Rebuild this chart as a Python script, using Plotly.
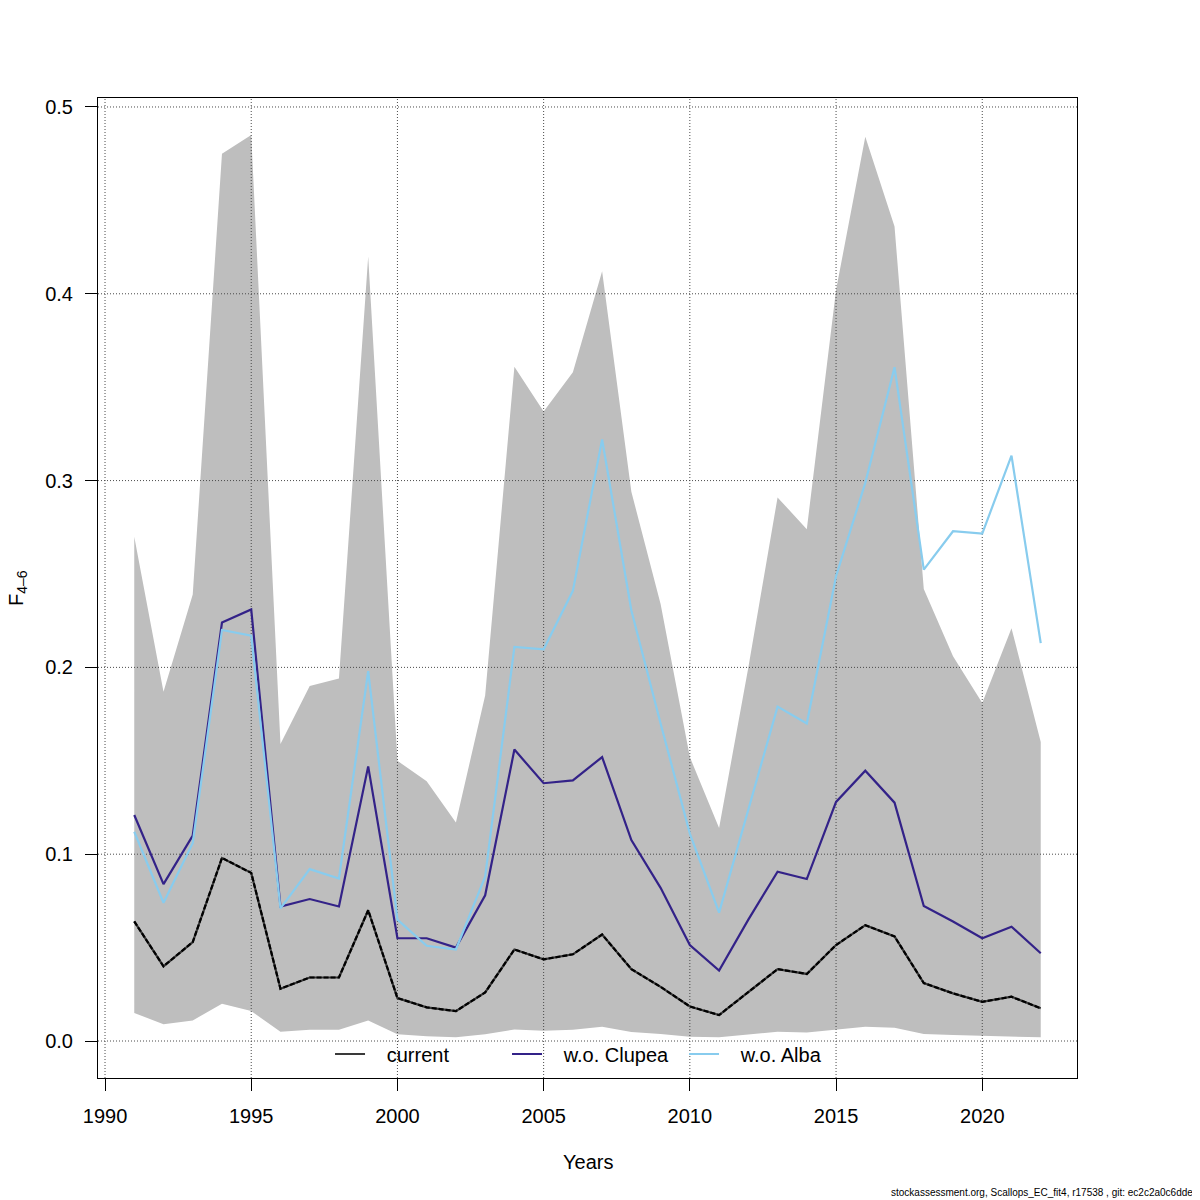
import plotly.graph_objects as go

# F(4-6) by year
years = list(range(1991, 2023))

upper = [0.270, 0.187, 0.239, 0.475, 0.485, 0.159, 0.190, 0.194, 0.420, 0.150,
         0.139, 0.117, 0.185, 0.361, 0.337, 0.358, 0.412, 0.294, 0.234, 0.152,
         0.114, 0.200, 0.291, 0.274, 0.402, 0.484, 0.436, 0.242, 0.206, 0.181,
         0.221, 0.160]
lower = [0.015, 0.009, 0.011, 0.020, 0.016, 0.005, 0.006, 0.006, 0.011, 0.0036,
         0.0026, 0.002, 0.0036, 0.0062, 0.0055, 0.006, 0.0077, 0.0048, 0.0037, 0.0023,
         0.002, 0.0037, 0.005, 0.0046, 0.0062, 0.0077, 0.0071, 0.0037, 0.0032, 0.0029,
         0.0025, 0.002]
current = [0.064, 0.040, 0.053, 0.098, 0.090, 0.028, 0.034, 0.034, 0.070, 0.023,
           0.018, 0.016, 0.026, 0.049, 0.0437, 0.0464, 0.057, 0.0385, 0.029, 0.0185,
           0.0139, 0.026, 0.0385, 0.0359, 0.0514, 0.062, 0.056, 0.031, 0.0255, 0.021,
           0.0237, 0.0175]
clupea = [0.121, 0.084, 0.110, 0.224, 0.231, 0.072, 0.076, 0.072, 0.147, 0.055,
          0.055, 0.050, 0.078, 0.156, 0.138, 0.1395, 0.152, 0.1076, 0.082, 0.0514,
          0.0377, 0.065, 0.0906, 0.0867, 0.128, 0.1447, 0.1276, 0.0723, 0.064, 0.055,
          0.0612, 0.047]
alba = [0.112, 0.074, 0.106, 0.220, 0.217, 0.071, 0.092, 0.087, 0.198, 0.065,
        0.051, 0.049, 0.088, 0.211, 0.2097, 0.241, 0.322, 0.2305, 0.170, 0.111,
        0.0687, 0.124, 0.179, 0.170, 0.2488, 0.2988, 0.3607, 0.2523, 0.2729, 0.2716,
        0.3134, 0.213]

x_ticks = [1990, 1995, 2000, 2005, 2010, 2015, 2020]
y_ticks = [0.0, 0.1, 0.2, 0.3, 0.4, 0.5]
y_labels = ['0.0', '0.1', '0.2', '0.3', '0.4', '0.5']

# R style axis limits (4% padding)
x_range = [1989.76, 2023.24]
y_range = [-0.0198, 0.5048]

FONT = 'Liberation Sans'
PAD = '\u00a0\u00a0\u00a0'  # push legend text away from the line sample, like R

fig = go.Figure()

# confidence band
fig.add_trace(go.Scatter(x=years, y=lower, mode='lines', line=dict(width=0),
                         showlegend=False, hoverinfo='skip'))
fig.add_trace(go.Scatter(x=years, y=upper, mode='lines', line=dict(width=0),
                         fill='tonexty', fillcolor='#BEBEBE',
                         showlegend=False, hoverinfo='skip'))

# dotted grid drawn over the band (like grid() after polygon in R)
gx, gy = [], []
for t in x_ticks:
    gx += [t, t, None]
    gy += [y_range[0], y_range[1], None]
for t in y_ticks:
    gx += [x_range[0], x_range[1], None]
    gy += [t, t, None]
fig.add_trace(go.Scatter(x=gx, y=gy, mode='lines',
                         line=dict(color='#4a4a4a', width=1, dash='1px,2px'),
                         showlegend=False, hoverinfo='skip'))

# series
fig.add_trace(go.Scatter(x=years, y=current, mode='lines', name=PAD + 'current',
                         line=dict(color='#3a3a3a', width=2.2)))
fig.add_trace(go.Scatter(x=years, y=current, mode='lines', showlegend=False,
                         line=dict(color='black', width=2.2, dash='5px,2px')))
fig.add_trace(go.Scatter(x=years, y=clupea, mode='lines', name=PAD + 'w.o. Clupea',
                         line=dict(color='#332288', width=2.2)))
fig.add_trace(go.Scatter(x=years, y=alba, mode='lines', name=PAD + 'w.o. Alba',
                         line=dict(color='#88CCEE', width=2.2)))

fig.update_xaxes(range=x_range, tickvals=x_ticks, ticks='outside', ticklen=12,
                 tickcolor='black', showline=True, linecolor='black', linewidth=1,
                 mirror=True, showgrid=False, zeroline=False,
                 ticklabelstandoff=8, tickfont=dict(size=20, color='black'))
fig.update_yaxes(range=y_range, tickvals=y_ticks, ticktext=y_labels,
                 ticks='outside', ticklen=12, tickcolor='black',
                 showline=True, linecolor='black', linewidth=1, mirror=True,
                 showgrid=False, zeroline=False, ticklabelstandoff=8,
                 tickfont=dict(size=20, color='black'))

# page body has an 8px margin, so the figure is 1192 square placed at (8, 8)
fig.update_layout(
    width=1192, height=1192,
    plot_bgcolor='white', paper_bgcolor='white',
    font=dict(family=FONT, size=20, color='black'),
    margin=dict(l=90, r=123, t=90, b=122),
    legend=dict(orientation='h', x=0.237, y=0.0245, xanchor='left', yanchor='middle',
                bgcolor='rgba(0,0,0,0)', entrywidth=132, entrywidthmode='pixels',
                traceorder='normal', font=dict(size=20)),
    annotations=[
        dict(text='Years', x=0.5, y=-0.0857, xref='paper', yref='paper',
             xanchor='center', yanchor='middle', showarrow=False, font=dict(size=20)),
        dict(text='F<sub>4–6</sub>', x=-0.0828, y=0.5, xref='paper', yref='paper',
             xanchor='center', yanchor='middle', textangle=-90, showarrow=False,
             font=dict(size=20)),
        dict(text='stockassessment.org, Scallops_EC_fit4, r17538 , git: ec2c2a0c6dde',
             x=1.1205, y=-0.1173, xref='paper', yref='paper', xanchor='right',
             yanchor='middle', showarrow=False, font=dict(size=10)),
    ],
)

fig.write_html("out.html")
